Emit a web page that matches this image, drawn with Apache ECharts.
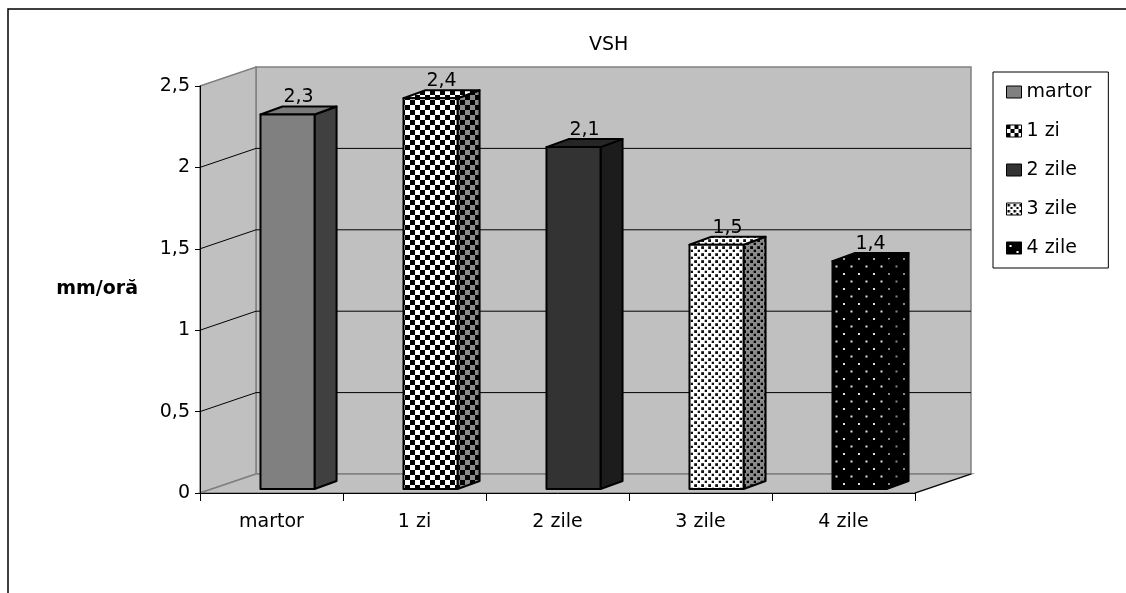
<!DOCTYPE html>
<html><head><meta charset="utf-8">
<script src="https://cdn.jsdelivr.net/npm/echarts@6/dist/echarts.min.js"></script>
<style>html,body{margin:0;padding:0;background:#fff}#c{width:1126px;height:593px}</style>
</head><body><div id="c"></div>
<script>
const chartTitle = 'VSH';
const yAxisName = 'mm/oră';
const categories = ['martor', '1 zi', '2 zile', '3 zile', '4 zile'];
const values = [2.3, 2.4, 2.1, 1.5, 1.4];
const yTicks = [0, 0.5, 1, 1.5, 2, 2.5];

const FONT = 'DejaVu Sans';
const FS = 19;
const fmt = v => String(v).replace('.', ',');

function pat(w, h, bg, draw) {
  const c = document.createElement('canvas'); c.width = w; c.height = h;
  const g = c.getContext('2d'); g.fillStyle = bg; g.fillRect(0, 0, w, h); draw(g);
  return { image: c, repeat: 'repeat' };
}
function checker(a, b, s) { return pat(2 * s, 2 * s, b, g => { g.fillStyle = a; g.fillRect(0, 0, s, s); g.fillRect(s, s, s, s); }); }
function dots(bg, fg, w, h, r, o) { return pat(w, h, bg, g => { g.fillStyle = fg; g.fillRect(o, o, r, r); g.fillRect(o + w / 2, o + h / 2, r, r); }); }

const faces = [
  { front: '#808080', side: '#404040', top: '#7a7a7a', legend: '#808080', solid: '#808080' },
  { front: checker('#000', '#fff', 5), side: checker('#000', '#8a8a8a', 5), top: checker('#000', '#fff', 5), legend: checker('#000', '#fff', 4), solid: '#808080' },
  { front: '#333333', side: '#1c1c1c', top: '#262626', legend: '#333333', solid: '#333333' },
  { front: dots('#fff', '#111', 7, 7, 2.8, 1.2), side: dots('#8a8a8a', '#000', 7, 7, 2.8, 1.2), top: dots('#fff', '#111', 7, 7, 2.8, 1.2), legend: dots('#fff', '#000', 6, 6, 2.5, 1), solid: '#aaaaaa' },
  { front: dots('#000', '#e0e0e0', 15, 15, 2, 3), side: dots('#000', '#888', 15, 15, 2, 3), top: dots('#000', '#aaa', 15, 15, 2, 3), legend: dots('#000', '#fff', 14, 12, 2, 3), solid: '#000000' }
];

function renderWalls(params, api) {
  const cs = params.coordSys;
  const X0 = cs.x, X1 = cs.x + cs.width, Y0 = cs.y, Y1 = cs.y + cs.height;
  const DX = 56, DY = -19;
  const wall = '#c0c0c0', edge = '#808080';
  const ch = [
    { type: 'polygon', shape: { points: [[X0 + DX, Y0 + DY], [X1 + DX, Y0 + DY], [X1 + DX, Y1 + DY], [X0 + DX, Y1 + DY]] }, style: { fill: wall, stroke: edge, lineWidth: 1.5 } },
    { type: 'polygon', shape: { points: [[X0, Y0], [X0 + DX, Y0 + DY], [X0 + DX, Y1 + DY], [X0, Y1]] }, style: { fill: wall, stroke: edge, lineWidth: 1.5 } },
    { type: 'polygon', shape: { points: [[X0, Y1], [X1, Y1], [X1 + DX, Y1 + DY], [X0 + DX, Y1 + DY]] }, style: { fill: wall, stroke: edge, lineWidth: 1.5 } }
  ];
  yTicks.forEach(v => {
    if (v <= 0 || v >= yTicks[yTicks.length - 1]) return;
    const y = api.coord([0, v])[1];
    ch.push({ type: 'polyline', shape: { points: [[X0, y], [X0 + DX, y + DY], [X1 + DX, y + DY]] }, style: { stroke: '#000', lineWidth: 1, fill: null } });
  });
  ch.push({ type: 'line', shape: { x1: X1, y1: Y1, x2: X1 + DX, y2: Y1 + DY }, style: { stroke: '#000', lineWidth: 1.2 } });
  return { type: 'group', children: ch };
}

function renderBar(idx) {
  return function (params, api) {
    const x = api.value(0), v = api.value(1);
    const top = api.coord([x, v]);
    const base = api.coord([x, 0]);
    const bw = api.size([1, 0])[0];
    const w = bw * 0.378, L = top[0] - bw * 0.077, R = L + w;
    const lift = 4, dx = bw * 0.154, dy = -8;
    const yt = top[1] - lift, yb = base[1] - lift;
    const f = faces[idx];
    const st = { stroke: '#000', lineWidth: 2, lineJoin: 'round' };
    return {
      type: 'group', children: [
        { type: 'polygon', shape: { points: [[R, yt], [R + dx, yt + dy], [R + dx, yb + dy], [R, yb]] }, style: Object.assign({ fill: f.side }, st) },
        { type: 'polygon', shape: { points: [[L, yt], [L + dx, yt + dy], [R + dx, yt + dy], [R, yt]] }, style: Object.assign({ fill: f.top }, st) },
        { type: 'rect', shape: { x: L, y: yt, width: w, height: yb - yt }, style: Object.assign({ fill: f.front }, st) },
        { type: 'text', x: L + w / 2 + dx / 2, y: yt + dy - 9, style: { text: fmt(v), fill: '#000', fontSize: FS, fontFamily: FONT, align: 'center', verticalAlign: 'middle' } }
      ]
    };
  };
}

const series = [{
  type: 'custom', name: '_walls', z: -1, silent: true, renderItem: renderWalls, data: [[0, 0]]
}].concat(categories.map((c, i) => ({
  type: 'custom', name: c, renderItem: renderBar(i), data: [[i, values[i]]],
  itemStyle: { color: faces[i].solid }, silent: true
})));

const chart = echarts.init(document.getElementById('c'));
chart.setOption({
  animation: false,
  backgroundColor: '#fff',
  title: { text: chartTitle, left: 589, top: 36, padding: 0, textStyle: { fontSize: FS, fontWeight: 'normal', color: '#000', fontFamily: FONT } },
  grid: { left: 200, right: 211, top: 86, bottom: 100, containLabel: false },
  legend: {
    orient: 'vertical', left: 993, top: 72, padding: [10, 17, 10, 13], itemGap: 19,
    itemWidth: 15, itemHeight: 12, icon: 'rect',
    borderColor: '#000', borderWidth: 1, backgroundColor: '#fff',
    textStyle: { fontSize: FS, fontFamily: FONT, color: '#000', lineHeight: 20 },
    selectedMode: false,
    data: categories.map((c, i) => ({ name: c, itemStyle: { color: faces[i].legend, borderColor: '#000', borderWidth: 1 } }))
  },
  graphic: [{ type: 'rect', silent: true, shape: { x: 8, y: 9, width: 1300, height: 800 }, style: { fill: 'none', stroke: '#000', lineWidth: 1.5 } }],
  xAxis: {
    type: 'category', data: categories,
    axisLine: { show: true, lineStyle: { color: '#000', width: 1 } },
    axisTick: { show: true, length: 8, lineStyle: { color: '#000' } },
    axisLabel: { fontSize: FS, fontFamily: FONT, color: '#000', margin: 20 },
    splitLine: { show: false }
  },
  yAxis: {
    type: 'value', min: yTicks[0], max: yTicks[yTicks.length - 1], interval: 0.5,
    name: yAxisName, nameLocation: 'middle', nameRotate: 0, nameGap: 62,
    nameTextStyle: { fontSize: FS, fontWeight: 'bold', fontFamily: FONT, color: '#000' },
    axisLine: { show: true, lineStyle: { color: '#000', width: 1 } },
    axisTick: { show: true, length: 5, lineStyle: { color: '#000' } },
    axisLabel: { fontSize: FS, fontFamily: FONT, color: '#000', margin: 10, formatter: fmt },
    splitLine: { show: false }
  },
  series: series
});
</script></body></html>
